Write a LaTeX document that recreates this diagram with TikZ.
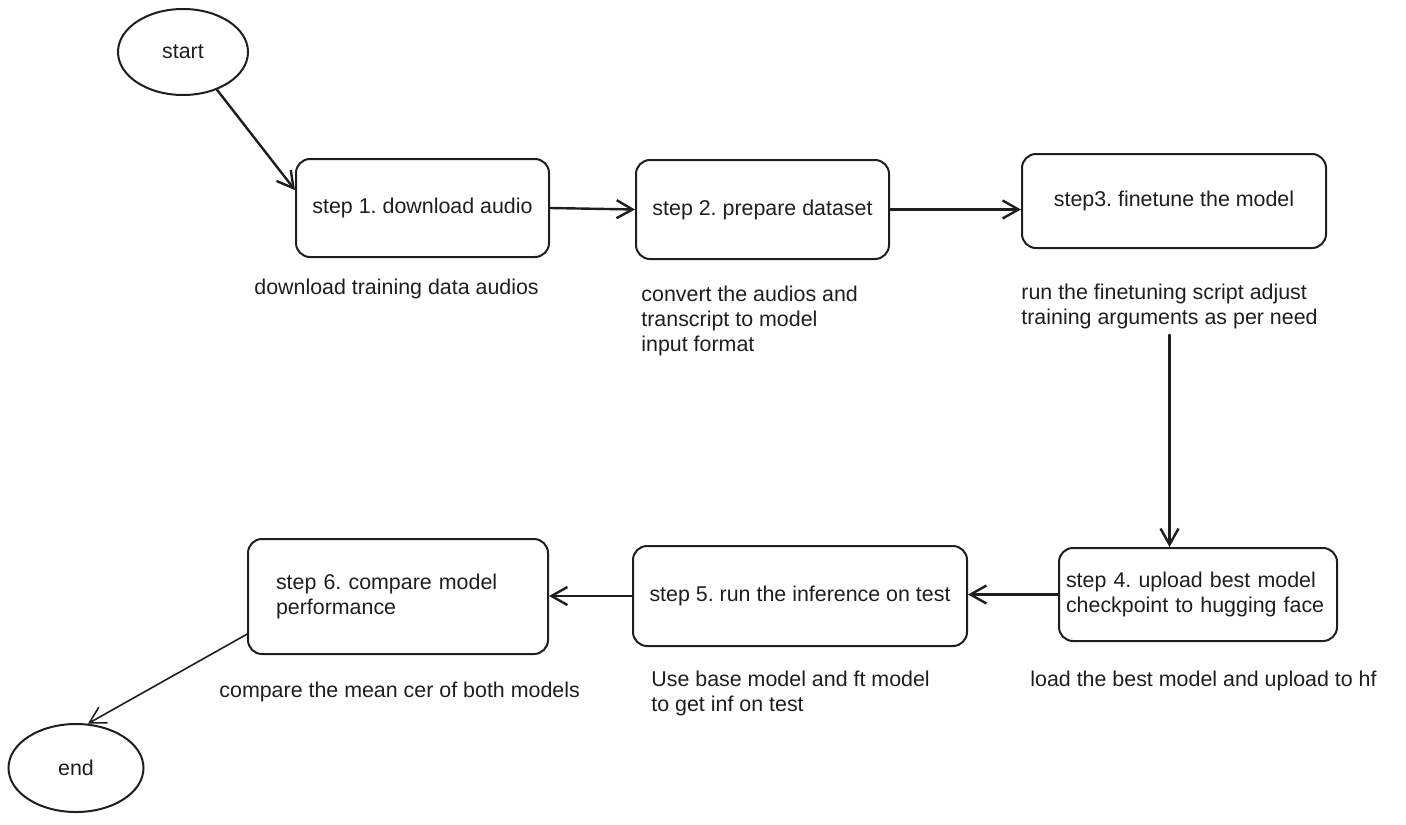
\documentclass[tikz,border=0pt]{standalone}
\usepackage{fontspec}
\setmainfont{Liberation Sans}
\usetikzlibrary{arrows.meta,shapes.geometric}
\definecolor{ftink}{HTML}{1E1E1E}
\frenchspacing
\tikzset{
  ft text/.style={font=\fontsize{10.7}{12.5}\selectfont, text=ftink},
  ft term/.style={ellipse, draw=ftink, line width=1pt, inner sep=0pt},
  ft box/.style={draw=ftink, line width=1pt, rounded corners=7pt, inner sep=0pt,
    align=center},
  ft note/.style={align=left, anchor=west, inner sep=0pt},
  ft arrow/.style={-{Straight Barb[length=8pt,width=9pt]}, line width=1.2pt,
    draw=ftink, line cap=round}
}
\begin{document}
\begin{tikzpicture}[ft text, x=0.5pt, y=-0.5pt]
  \useasboundingbox (0,0) rectangle (1406,824);
  \node[ft term, minimum width=65pt, minimum height=43pt] (start) at (183,52) {start};
  \node[ft box, minimum width=126.5pt, minimum height=49pt] (step1) at (422.5,208)
    {step 1. download audio};
  \node[ft box, minimum width=126.5pt, minimum height=49.5pt] (step2) at (762.5,209.5)
    {step 2. prepare dataset};
  \node[ft box, minimum width=152pt, minimum height=47pt] (step3) at (1174,201)
    {step3. finetune the model};
  \node[ft box, minimum width=139pt, minimum height=46.5pt, text width=132pt,
    align=left] (step4) at (1198,594.5)
    {step 4. upload best model\\checkpoint to hugging face};
  \node[ft box, minimum width=167pt, minimum height=50pt] (step5) at (800,596)
    {step 5. run the inference on test};
  \node[ft box, minimum width=150pt, minimum height=57.5pt, text width=122pt,
    align=left] (step6) at (398,596.5)
    {step 6. compare model\\performance};
  \node[ft term, minimum width=67.5pt, minimum height=44pt] (end) at (76,768) {end};
  % notes under the steps
  \node[ft note] (ann1) at (254,289) {download training data audios};
  \node[ft note] (ann2) at (641,321)
    {convert the audios and\\transcript to model\\input format};
  \node[ft note] (ann3) at (1021,306)
    {run the finetuning script adjust\\training arguments as per need};
  \node[ft note] (ann4) at (1030,681) {load the best model and upload to hf};
  \node[ft note] (ann5) at (651,693)
    {Use base model and ft model\\to get inf on test};
  \node[ft note] (ann6) at (219,692) {compare the mean cer of both models};
  % flow
  \draw[ft arrow] (start.-48) -- (step1.172);
  \draw[ft arrow] (step1.east) -- (step2.west);
  \draw[ft arrow] (step2.east) -- (step2.east -| step3.west);
  \draw[ft arrow] ([yshift=-3pt]ann3.south) -- (ann3.south |- step4.north);
  \draw[ft arrow] (step4.west) -- (step4.west -| step5.east);
  \draw[ft arrow] (step5.west) -- (step5.west -| step6.east);
  \draw[ft arrow, line width=0.8pt] (step6.194) -- (end.75);
\end{tikzpicture}
\end{document}
